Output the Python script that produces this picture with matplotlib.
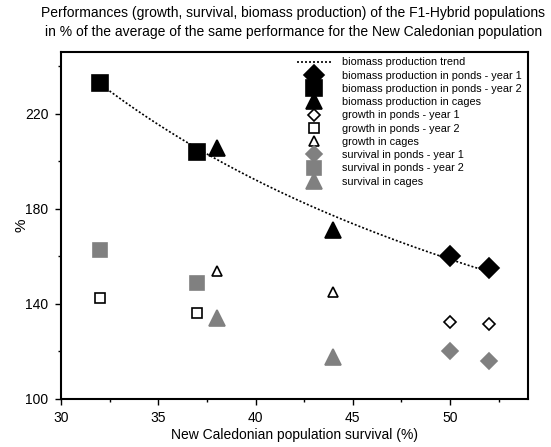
import numpy as np
import matplotlib.pyplot as plt
from matplotlib.lines import Line2D
from matplotlib.ticker import MultipleLocator

plt.rcParams['font.family'] = ['Liberation Sans', 'DejaVu Sans']

# New Caledonian population survival (%) for each trial
x_ponds_y1 = [50, 52]
x_ponds_y2 = [32, 37]
x_cages = [38, 44]

# performance of the F1-Hybrid population, % of the New Caledonian average
biomass_ponds_y1 = [160, 155]
biomass_ponds_y2 = [233, 204]
biomass_cages = [205.5, 171]

growth_ponds_y1 = [132.5, 131.5]
growth_ponds_y2 = [142.5, 136]
growth_cages = [154, 145]

survival_ponds_y1 = [120, 116]
survival_ponds_y2 = [162.5, 149]
survival_cages = [134, 117.5]

GREY = '#808080'

fig = plt.figure(figsize=(5.51, 4.47), dpi=100)
ax = fig.add_axes([0.1107, 0.1074, 0.8475, 0.7763])

# power trend fitted over all biomass points (like a spreadsheet trendline)
bx = np.array(x_ponds_y2 + x_cages + x_ponds_y1, dtype=float)
by = np.array(biomass_ponds_y2 + biomass_cages + biomass_ponds_y1, dtype=float)
b, lna = np.polyfit(np.log(bx), np.log(by), 1)
tx = np.linspace(bx.min(), bx.max(), 200)
ax.plot(tx, np.exp(lna) * tx ** b, color='black', ls=(0, (1.2, 1.2)), lw=1.2, zorder=2)

series = [
    (x_ponds_y1, biomass_ponds_y1, 'D', 10, 'black', 'black', 'biomass production in ponds - year 1'),
    (x_ponds_y2, biomass_ponds_y2, 's', 12, 'black', 'black', 'biomass production in ponds - year 2'),
    (x_cages, biomass_cages, '^', 12, 'black', 'black', 'biomass production in cages'),
    (x_ponds_y1, growth_ponds_y1, 'D', 6, 'white', 'black', 'growth in ponds - year 1'),
    (x_ponds_y2, growth_ponds_y2, 's', 7, 'white', 'black', 'growth in ponds - year 2'),
    (x_cages, growth_cages, '^', 7.5, 'white', 'black', 'growth in cages'),
    (x_ponds_y1, survival_ponds_y1, 'D', 8.5, GREY, GREY, 'survival in ponds - year 1'),
    (x_ponds_y2, survival_ponds_y2, 's', 10, GREY, GREY, 'survival in ponds - year 2'),
    (x_cages, survival_cages, '^', 11, GREY, GREY, 'survival in cages'),
]

handles = [Line2D([], [], color='black', ls=(0, (1.2, 1.2)), lw=1.2,
                  label='biomass production trend')]
for xs, ys, m, ms, fc, ec, lab in series:
    ax.plot(xs, ys, ls='none', marker=m, ms=ms, mfc=fc, mec=ec, mew=1.2, zorder=3)
    handles.append(Line2D([], [], ls='none', marker=m, ms=ms, mfc=fc, mec=ec,
                          mew=1.2, label=lab))

leg = ax.legend(handles=handles, loc='upper left', bbox_to_anchor=(0.494, 1.0),
                frameon=False, fontsize=7.8, labelspacing=0.3, handlelength=3.1,
                handletextpad=1.0, borderaxespad=0.1)

ax.set_xlim(30, 54)
ax.set_ylim(100, 246)
ax.xaxis.set_major_locator(MultipleLocator(5))
ax.xaxis.set_minor_locator(MultipleLocator(2.5))
ax.yaxis.set_major_locator(MultipleLocator(40, offset=20))
ax.yaxis.set_minor_locator(MultipleLocator(20))
ax.tick_params(which='major', direction='out', length=4, width=1, labelsize=10, pad=5)
ax.tick_params(which='minor', direction='out', length=2.5, width=1)
for s in ax.spines.values():
    s.set_linewidth(1.5)

ax.set_xlabel('New Caledonian population survival (%)', fontsize=10, labelpad=2)
ax.set_ylabel('%', fontsize=11)
ax.yaxis.set_label_coords(-0.07, 0.5)
fig.text(0.532, 0.971, 'Performances (growth, survival, biomass production) of the F1-Hybrid populations',
         fontsize=10, ha='center', va='center')
fig.text(0.532, 0.929, 'in % of the average of the same performance for the New Caledonian population',
         fontsize=10, ha='center', va='center')

fig.savefig('out.png', dpi=100)
